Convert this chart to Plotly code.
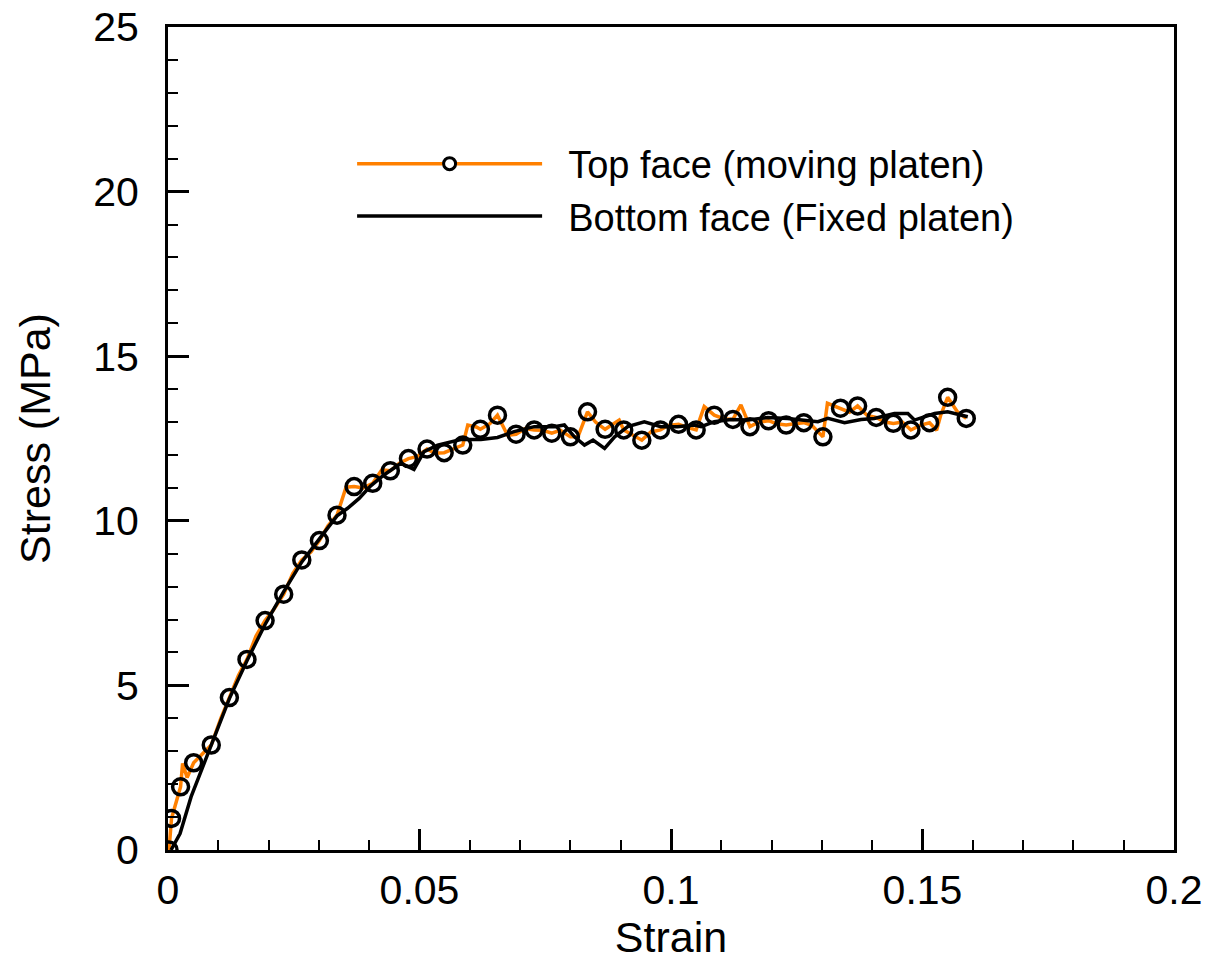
import plotly.graph_objects as go

# Top face (moving platen): dense orange line
top_strain = [0.0002, 0.0007, 0.0025, 0.0029, 0.0038, 0.0051, 0.0086, 0.0105, 0.0122, 0.0140,
              0.0157, 0.0175, 0.0193, 0.0210, 0.0230, 0.0248, 0.0266, 0.0284, 0.0301, 0.0318,
              0.0336, 0.0354, 0.0370, 0.0388, 0.0407, 0.0425, 0.0442, 0.0460, 0.0478, 0.0495,
              0.0515, 0.0530, 0.0549, 0.0568, 0.0586, 0.0596, 0.0613, 0.0621, 0.0640, 0.0655,
              0.0675, 0.0692, 0.0710, 0.0728, 0.0745, 0.0763, 0.0780, 0.0800, 0.0815, 0.0834,
              0.0850, 0.0869, 0.0897, 0.0906, 0.0925, 0.0942, 0.0960, 0.0979, 0.0995, 0.1015,
              0.1030, 0.1050, 0.1066, 0.1086, 0.1105, 0.1123, 0.1139, 0.1157, 0.1175, 0.1194,
              0.1210, 0.1229, 0.1245, 0.1264, 0.1280, 0.1302, 0.1311, 0.1337, 0.1355, 0.1371,
              0.1390, 0.1408, 0.1425, 0.1442, 0.1460, 0.1477, 0.1495, 0.1514, 0.1528, 0.1536,
              0.1550, 0.1570, 0.1587]
top_stress = [0.00, 0.96, 1.92, 2.63, 2.20, 2.65, 3.19, 4.00, 4.63, 5.30,
              5.79, 6.50, 6.97, 7.30, 7.77, 8.40, 8.81, 9.05, 9.40, 9.85,
              10.17, 11.02, 11.04, 11.00, 11.14, 11.55, 11.52, 11.75, 11.89, 11.95,
              12.18, 12.05, 12.07, 12.20, 12.30, 12.91, 12.85, 12.78, 12.95, 13.21,
              12.60, 12.63, 12.80, 12.76, 12.75, 12.66, 12.75, 12.55, 12.55, 13.31,
              13.00, 12.78, 13.06, 12.76, 12.60, 12.45, 12.70, 12.76, 12.90, 12.93,
              12.85, 12.76, 13.47, 13.21, 13.10, 13.08, 13.52, 12.86, 13.00, 13.04,
              12.95, 12.91, 12.95, 12.98, 12.90, 12.55, 13.57, 13.42, 13.30, 13.49,
              13.20, 13.14, 13.00, 12.96, 13.00, 12.76, 12.90, 12.98, 12.75, 13.20,
              13.75, 13.30, 13.11]

# Top face symbol positions
mark_strain = [0.0002, 0.0007, 0.0025, 0.0051, 0.0086, 0.0122, 0.0157, 0.0193, 0.0230, 0.0266,
               0.0301, 0.0336, 0.0370, 0.0407, 0.0442, 0.0478, 0.0515, 0.0549, 0.0586, 0.0621,
               0.0655, 0.0692, 0.0728, 0.0763, 0.0800, 0.0834, 0.0869, 0.0906, 0.0942, 0.0979,
               0.1015, 0.1050, 0.1086, 0.1123, 0.1157, 0.1194, 0.1229, 0.1264, 0.1302, 0.1337,
               0.1371, 0.1408, 0.1442, 0.1477, 0.1514, 0.1550, 0.1587]
mark_stress = [0.00, 0.96, 1.92, 2.65, 3.19, 4.63, 5.79, 6.97, 7.77, 8.81,
               9.40, 10.17, 11.04, 11.14, 11.52, 11.89, 12.18, 12.07, 12.30, 12.78,
               13.21, 12.63, 12.76, 12.66, 12.55, 13.31, 12.78, 12.76, 12.45, 12.76,
               12.93, 12.76, 13.21, 13.08, 12.86, 13.04, 12.91, 12.98, 12.55, 13.42,
               13.49, 13.14, 12.96, 12.76, 12.98, 13.75, 13.11]

# Bottom face (fixed platen)
bot_strain = [0.0006, 0.0024, 0.0046, 0.0086, 0.0122, 0.0157, 0.0193, 0.0230, 0.0266, 0.0301,
              0.0336, 0.0357, 0.0380, 0.0403, 0.0430, 0.0463, 0.0489, 0.0509, 0.0536, 0.0582,
              0.0622, 0.0655, 0.0688, 0.0728, 0.0768, 0.0788, 0.0808, 0.0828, 0.0845, 0.0868,
              0.0888, 0.0914, 0.0947, 0.0980, 0.1013, 0.1046, 0.1060, 0.1086, 0.1119, 0.1153,
              0.1192, 0.1232, 0.1272, 0.1292, 0.1312, 0.1345, 0.1378, 0.1404, 0.1444, 0.1471,
              0.1484, 0.1524, 0.1550, 0.1590]
bot_stress = [0.00, 0.50, 1.62, 3.19, 4.60, 5.75, 6.85, 7.85, 8.75, 9.45,
              10.15, 10.38, 10.68, 11.06, 11.40, 11.75, 11.56, 12.10, 12.30, 12.47,
              12.47, 12.53, 12.71, 12.86, 12.86, 12.91, 12.55, 12.30, 12.45, 12.20,
              12.55, 12.86, 13.01, 12.86, 12.86, 12.91, 12.86, 13.01, 13.08, 13.06,
              13.14, 13.11, 13.04, 13.01, 13.11, 12.98, 13.08, 13.11, 13.26, 13.26,
              13.06, 13.26, 13.31, 13.16]

x_ticks = [0, 0.05, 0.1, 0.15, 0.2]
x_ticklabels = ["0", "0.05", "0.1", "0.15", "0.2"]
y_ticks = [0, 5, 10, 15, 20, 25]

ORANGE = "#FF8000"
FONT = "Liberation Sans, Arial, sans-serif"
NB = "\u00a0\u00a0"

fig = go.Figure()
fig.add_trace(go.Scatter(x=top_strain, y=top_stress, mode="lines",
                         line=dict(color=ORANGE, width=3.5), showlegend=False, hoverinfo="skip"))
fig.add_trace(go.Scatter(x=mark_strain, y=mark_stress, mode="markers",
                         marker=dict(symbol="circle", size=16, color="rgba(255,255,255,0)",
                                     line=dict(color="black", width=3.5)),
                         showlegend=False))
fig.add_trace(go.Scatter(x=bot_strain, y=bot_stress, mode="lines",
                         line=dict(color="black", width=3.5), showlegend=False))
# legend entries
fig.add_trace(go.Scatter(x=[None], y=[None], mode="lines+markers", name=NB + "Top face (moving platen)",
                         line=dict(color=ORANGE, width=3.5),
                         marker=dict(symbol="circle", size=12, color="white",
                                     line=dict(color="black", width=3))))
fig.add_trace(go.Scatter(x=[None], y=[None], mode="lines", name=NB + "Bottom face (Fixed platen)",
                         line=dict(color="black", width=3.5)))

axis_common = dict(showgrid=False, zeroline=False, showline=True, linecolor="black", linewidth=3,
                   mirror=True, ticks="inside", ticklen=21, tickwidth=3, tickcolor="black",
                   automargin=False,
                   tickfont=dict(family=FONT, size=41, color="black"))

fig.update_xaxes(range=[0, 0.2], tickvals=x_ticks, ticktext=x_ticklabels, ticklabelstandoff=2,
                 title=dict(text="Strain", font=dict(family=FONT, size=43, color="black"), standoff=4),
                 minor=dict(dtick=0.01, tick0=0, ticks="inside", ticklen=10, tickwidth=1.5, tickcolor="black"),
                 **axis_common)
fig.update_yaxes(range=[0, 25], tickvals=y_ticks, ticklabelstandoff=18,
                 title=dict(text="Stress (MPa)", font=dict(family=FONT, size=43, color="black"), standoff=30),
                 minor=dict(dtick=1, tick0=0, ticks="inside", ticklen=10, tickwidth=1.5, tickcolor="black"),
                 **axis_common)

fig.update_layout(
    width=1207, height=961,
    margin=dict(l=168, r=33, t=27, b=111),
    plot_bgcolor="white", paper_bgcolor="white",
    font=dict(family=FONT, color="black"),
    legend=dict(x=0.183, y=0.802, xanchor="left", yanchor="middle",
                font=dict(family=FONT, size=38, color="black"),
                bgcolor="rgba(0,0,0,0)", itemwidth=185, tracegroupgap=0),
)

fig.write_html("out.html")
